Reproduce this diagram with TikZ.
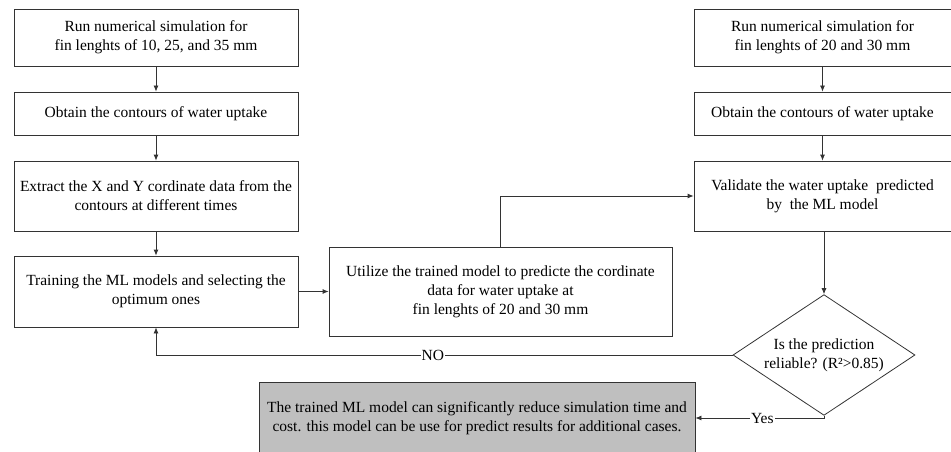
\documentclass[tikz,border=0pt]{standalone}
\usepackage{fontspec}
\setmainfont{Liberation Serif}
\usetikzlibrary{shapes.geometric}
\usetikzlibrary{arrows.meta}

\begin{document}
\begin{tikzpicture}[x=1pt,y=-1pt,
    box/.style={draw=black!80,line width=0.8pt,align=center,inner sep=3pt,
        font=\fontsize{15.5}{19}\selectfont},
    decision/.style={box,diamond,inner sep=-8pt,minimum width=182pt,minimum height=94pt},
    arr/.style={draw=black!80,line width=0.8pt,-{Latex[length=6pt,width=5pt]}},
    lbl/.style={fill=white,inner sep=1pt,font=\fontsize{15.5}{19}\selectfont}]
\useasboundingbox (0,0) rectangle (951,452);

% left column
\node[box,minimum width=284pt,minimum height=57pt] (l1) at (156,37.5)
    {Run numerical simulation for\\fin lenghts of 10, 25, and 35 mm};
\node[box,minimum width=284pt,minimum height=43pt] (l2) at (156,113.5)
    {Obtain the contours of water uptake};
\node[box,minimum width=284pt,minimum height=70pt] (l3) at (156,196)
    {Extract the X and Y cordinate data from the\\contours at different times};
\node[box,minimum width=284pt,minimum height=71pt] (l4) at (156,291.5)
    {Training the ML models and selecting the\\optimum ones};

% middle
\node[box,minimum width=343pt,minimum height=89pt] (pred) at (500.5,291.5)
    {Utilize the trained model to predicte the cordinate\\data for water uptake at\\fin lenghts of 20 and 30 mm};

% right column
\node[box,minimum width=257pt,minimum height=57pt] (r1) at (822.5,37.5)
    {Run numerical simulation for\\fin lenghts of 20 and 30 mm};
\node[box,minimum width=257pt,minimum height=43pt] (r2) at (822.5,113.5)
    {Obtain the contours of water uptake};
\node[box,minimum width=257pt,minimum height=70pt] (r3) at (822.5,196)
    {Validate the water uptake~ predicted\\by~ the ML model};
\node[decision] (check) at (824,355)
    {Is the prediction\\reliable? (R²>0.85)};

% result
\node[box,fill=black!25,minimum width=436pt,minimum height=72pt] (res) at (477,418)
    {The trained ML model can significantly reduce simulation time and\\cost. this model can be use for predict results for additional cases.};

\draw[arr] (l1) -- (l2);
\draw[arr] (l2) -- (l3);
\draw[arr] (l3) -- (l4);
\draw[arr] (l4) -- (pred);
\draw[arr] (pred.north) |- (r3.west);
\draw[arr] (r1) -- (r2);
\draw[arr] (r2) -- (r3);
\draw[arr] (r3.south -| check.north) -- (check.north);
\draw[arr] (check.west) -| node[lbl,pos=0.26]{NO} (l4.south);
\draw[arr] (check.south) |- node[lbl,pos=0.74]{Yes} (res.east);
\end{tikzpicture}
\end{document}
